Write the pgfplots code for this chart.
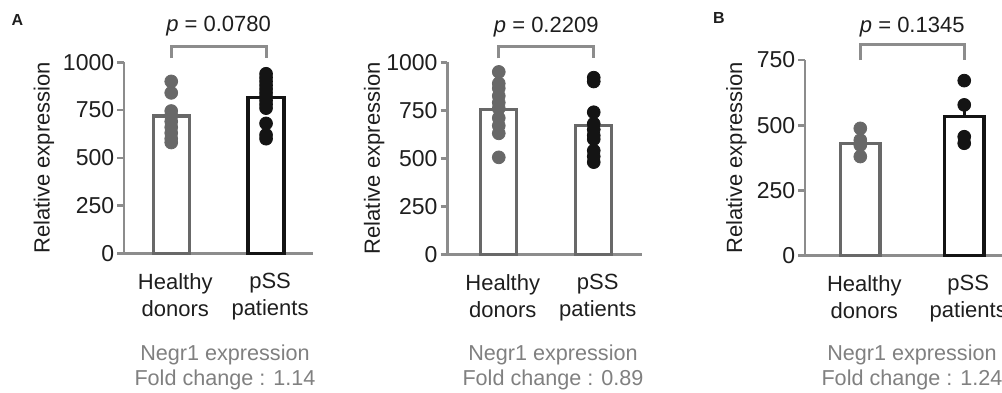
\documentclass[border=0pt]{standalone}
\usepackage{pgfplots}
\pgfplotsset{compat=1.18}
\usepackage{fontspec}
\setmainfont{Liberation Sans}
\definecolor{axgray}{HTML}{8C8C8C}
\definecolor{hgray}{HTML}{686868}
\definecolor{pblack}{HTML}{141414}
\definecolor{capgray}{HTML}{808080}
\definecolor{txt}{HTML}{1E1E1E}

\tikzset{plab/.style={anchor=base, font=\fontsize{11}{13}\selectfont, text=txt}}
\pgfplotsset{
  panel/.style={
    scale only axis,
    axis x line=bottom, axis y line=left,
    axis line style={-, axgray, line width=1.3pt},
    ymin=0,
    xtick={1,2},
    xticklabels={Healthy\\donors, pSS\\patients},
    xtick style={draw=none},
    x tick label style={align=center, font=\fontsize{11}{13.5}\selectfont, text=txt, xshift=2pt, yshift=-3pt},
    ytick style={axgray, line width=1.3pt},
    tick align=outside,
    major tick length=3.4pt,
    y tick label style={font=\fontsize{11.5}{13}\selectfont, text=txt, xshift=2pt},
    /pgf/number format/assume math mode=true,
    /pgf/number format/1000 sep={},
    ylabel={Relative expression},
    clip=false,
    anchor=south west,
  },
  ylab/.style={ylabel style={at={(axis description cs:#1,0.5)}, anchor=center,
     font=\fontsize{11}{13}\selectfont, text=txt}},
  bars/.style={ybar, bar shift=0pt, bar width=0.38, fill=white, line width=1.6pt},
  dots/.style={only marks, mark=*, mark size=3.2pt, mark options={draw=none}},
  bracket/.style={axgray, line width=1.5pt, mark=none},
}

\begin{document}
\begin{tikzpicture}
\path[use as bounding box] (0,0) rectangle (501pt,196pt);
\clip (0,0) rectangle (501pt,196pt);

% ---------------- Panel A, left ----------------
\begin{axis}[panel, ylab=-0.4233, at={(62pt,69.35pt)}, width=94.5pt, height=95.5pt,
  xmin=0.502, xmax=2.495, ymax=1000, ytick={0,250,500,750,1000}]
\addplot[bars, draw=hgray, error bars/.cd, y dir=plus, y explicit, error mark=none,
  error bar style={hgray, line width=1.6pt}] coordinates {(1,719) +- (0,35)};
\addplot[bars, draw=pblack, error bars/.cd, y dir=plus, y explicit, error mark=none,
  error bar style={pblack, line width=1.6pt}] coordinates {(2,817) +- (0,32)};
\addplot[dots, hgray] coordinates {(1,900) (1,840) (1,745) (1,720) (1,690) (1,660) (1,630) (1,600) (1,580)};
\addplot[dots, pblack] coordinates {(2,940) (2,920) (2,900) (2,880) (2,860) (2,840) (2,820) (2,800) (2,780) (2,760) (2,680) (2,620) (2,600)};
\addplot[bracket] coordinates {(1,1022) (1,1085) (2,1085) (2,1022)};
\node[plab] at (axis cs:1.5,1159) {\textit{p} = 0.0780};
\end{axis}

% ---------------- Panel A, right ----------------
\begin{axis}[panel, ylab=-0.3755, at={(223.65pt,68.85pt)}, width=97.2pt, height=96pt,
  xmin=0.458, xmax=2.505, ymax=1000, ytick={0,250,500,750,1000}]
\addplot[bars, draw=hgray, error bars/.cd, y dir=plus, y explicit, error mark=none,
  error bar style={hgray, line width=1.6pt}] coordinates {(1,753) +- (0,40)};
\addplot[bars, draw=hgray, error bars/.cd, y dir=plus, y explicit, error mark=none,
  error bar style={hgray, line width=1.6pt}] coordinates {(2,670) +- (0,48)};
\addplot[dots, hgray] coordinates {(1,950) (1,890) (1,865) (1,825) (1,790) (1,760) (1,710) (1,670) (1,630) (1,505)};
\addplot[dots, pblack] coordinates {(2,920) (2,900) (2,740) (2,680) (2,650) (2,620) (2,600) (2,540) (2,510) (2,480)};
\addplot[bracket] coordinates {(1,1021) (1,1081) (2,1081) (2,1021)};
\node[plab] at (axis cs:1.5,1156) {\textit{p} = 0.2209};
\end{axis}

% ---------------- Panel B ----------------
\begin{axis}[panel, ylab=-0.3243, at={(402.5pt,68.15pt)}, width=105.6pt, height=97.85pt,
  xmin=0.468, xmax=2.5, ymax=750, ytick={0,250,500,750}]
\addplot[bars, draw=hgray, error bars/.cd, y dir=plus, y explicit, error mark=none,
  error bar style={hgray, line width=1.6pt}] coordinates {(1,431) +- (0,24)};
\addplot[bars, draw=pblack, error bars/.cd, y dir=plus, y explicit, error mark=none,
  error bar style={pblack, line width=1.6pt}] coordinates {(2,535) +- (0,57)};
\addplot[dots, hgray] coordinates {(1,488) (1,443) (1,424) (1,380)};
\addplot[dots, pblack] coordinates {(2,671) (2,578) (2,456) (2,431)};
\addplot[bracket] coordinates {(1,750) (1,808) (2,808) (2,750)};
\node[plab] at (axis cs:1.5,856) {\textit{p} = 0.1345};
\end{axis}

% panel letters
\node[font=\bfseries\fontsize{8}{9}\selectfont, text=txt] at (8.75pt,186pt) {A};
\node[font=\bfseries\fontsize{8}{9}\selectfont, text=txt] at (359.5pt,187.25pt) {B};

% captions
\begin{scope}[every node/.style={anchor=base, text=capgray, font=\fontsize{10.8}{13}\selectfont}]
\node at (112.5pt,16pt) {Negr1 expression};
\node at (112.5pt,3.5pt) {Fold change : 1.14};
\node at (276.5pt,16pt) {Negr1 expression};
\node at (276.5pt,3.5pt) {Fold change : 0.89};
\node at (456pt,16pt) {Negr1 expression};
\node at (456pt,3.5pt) {Fold change : 1.24};
\end{scope}
\end{tikzpicture}
\end{document}
